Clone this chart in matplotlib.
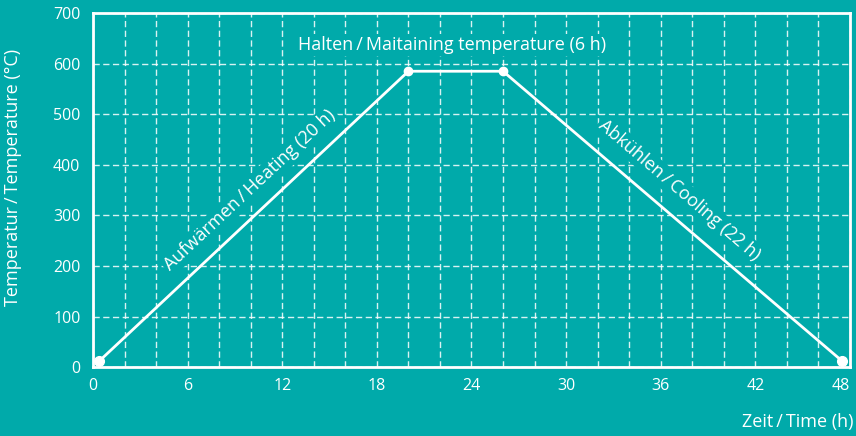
import matplotlib
matplotlib.use("Agg")
import matplotlib.pyplot as plt
from matplotlib.ticker import MultipleLocator

# Data
time_h = [0.4, 20.0, 26.0, 47.5]
temp_c = [12, 585, 585, 12]
x_ticks = [0, 6, 12, 18, 24, 30, 36, 42, 48]
y_ticks = [0, 100, 200, 300, 400, 500, 600, 700]
phase_labels = ["Aufwärmen\u2009/\u2009Heating (20 h)",
                "Halten\u2009/\u2009Maitaining temperature (6 h)",
                "Abkühlen\u2009/\u2009Cooling (22 h)"]
y_label = "Temperatur\u2009/\u2009Temperature (°C)"
x_label = "Zeit\u2009/\u2009Time (h)"

BG = "#00AAAA"
FG = "white"
plt.rcParams['font.family'] = ['Open Sans', 'DejaVu Sans']

fig = plt.figure(figsize=(8.56, 4.36), dpi=100, facecolor=BG)
ax = fig.add_axes([0.1086, 0.158, 0.8844, 0.812])
ax.set_facecolor(BG)

ax.set_xlim(0, 48)
ax.set_ylim(0, 700)
ax.set_xticks(x_ticks)
ax.set_yticks(y_ticks)
ax.xaxis.set_minor_locator(MultipleLocator(2))
dash = (0, (4.5, 2.5))
ax.grid(which='both', axis='x', color=FG, linestyle=dash, linewidth=1.0, alpha=0.85)
ax.grid(which='major', axis='y', color=FG, linestyle=dash, linewidth=1.0, alpha=0.85)
ax.set_axisbelow(True)

for s in ax.spines.values():
    s.set_color(FG)
    s.set_linewidth(2)

ax.tick_params(which='both', length=0, colors=FG, labelsize=11.5)
ax.tick_params(axis='y', pad=9)
ax.tick_params(axis='x', pad=8)
ax.xaxis.get_major_ticks()[-1].label1.set_horizontalalignment('right')

ax.plot(time_h, temp_c, color=FG, linewidth=2, zorder=3)
ax.plot([time_h[0], time_h[-1]], [temp_c[0], temp_c[-1]], 'o', color=FG, markersize=7, zorder=4)
ax.plot(time_h[1:3], temp_c[1:3], 'o', color=FG, markersize=6, zorder=4)

box = dict(facecolor=BG, edgecolor='none', pad=1.5)
fs = 13
ax.text(9.96, 350, phase_labels[0], color=FG, fontsize=fs, rotation=43,
        ha='center', va='center', rotation_mode='anchor', bbox=box, zorder=2)
ax.text(22.8, 637, phase_labels[1], color=FG, fontsize=fs, ha='center', va='center',
        bbox=box, zorder=2)
ax.text(37.2, 350, phase_labels[2], color=FG, fontsize=fs, rotation=-40.5,
        ha='center', va='center', rotation_mode='anchor', bbox=box, zorder=2)

fig.text(13 / 856, 1 - 177 / 436, y_label, color=FG, fontsize=fs,
         rotation=90, ha='center', va='center')
fig.text(854 / 856, 1 - 422 / 436, x_label, color=FG, fontsize=fs,
         ha='right', va='center')

fig.savefig("out.png", dpi=100, facecolor=BG)
